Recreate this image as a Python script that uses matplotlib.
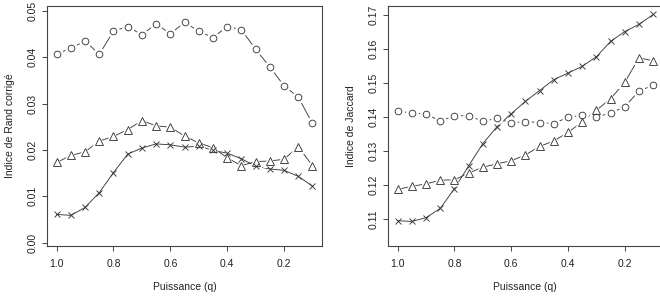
import numpy as np
import matplotlib.pyplot as plt

plt.rcParams['font.family'] = ['Liberation Sans', 'DejaVu Sans']

#%% data
q = [1.0, 0.95, 0.9, 0.85, 0.8, 0.75, 0.7, 0.65, 0.6, 0.55,
     0.5, 0.45, 0.4, 0.35, 0.3, 0.25, 0.2, 0.15, 0.1]

rand_circle = [0.0407, 0.0419, 0.0435, 0.0406, 0.0456, 0.0466, 0.0448, 0.0472, 0.0450, 0.0475,
               0.0456, 0.0442, 0.0466, 0.0459, 0.0417, 0.0379, 0.0338, 0.0314, 0.0257]
rand_triangle = [0.0173, 0.0188, 0.0196, 0.0219, 0.0229, 0.0244, 0.0263, 0.0252, 0.0249, 0.0230,
                 0.0215, 0.0205, 0.0183, 0.0166, 0.0175, 0.0176, 0.0180, 0.0207, 0.0166]
rand_cross = [0.0061, 0.0059, 0.0076, 0.0108, 0.0151, 0.0191, 0.0204, 0.0213, 0.0211, 0.0206,
              0.0208, 0.0199, 0.0193, 0.0181, 0.0165, 0.0159, 0.0156, 0.0143, 0.0122]

jac_circle = [0.1419, 0.1411, 0.1410, 0.1388, 0.1404, 0.1404, 0.1388, 0.1396, 0.1383, 0.1387,
              0.1384, 0.1381, 0.1400, 0.1405, 0.1400, 0.1412, 0.1430, 0.1477, 0.1493]
jac_triangle = [0.1188, 0.1197, 0.1204, 0.1215, 0.1216, 0.1236, 0.1253, 0.1263, 0.1272, 0.1289,
                0.1314, 0.1330, 0.1355, 0.1386, 0.1420, 0.1454, 0.1502, 0.1574, 0.1565]
jac_cross = [0.1096, 0.1094, 0.1105, 0.1132, 0.1190, 0.1257, 0.1322, 0.1372, 0.1410, 0.1446,
             0.1478, 0.1510, 0.1529, 0.1549, 0.1577, 0.1622, 0.1651, 0.1672, 0.1701]

x_ticks = [1.0, 0.8, 0.6, 0.4, 0.2]
rand_ticks = [0.00, 0.01, 0.02, 0.03, 0.04, 0.05]
jac_ticks = [0.11, 0.12, 0.13, 0.14, 0.15, 0.16, 0.17]

#%%
col = '#3a3a3a'
fs = 7.5


def draw_b(ax, y, marker, ms):
    # R type="b": line with a gap around each point
    ax.plot(q, y, color=col, lw=0.65, zorder=2)
    ax.plot(q, y, linestyle='none', marker=marker, ms=ms * 1.9,
            mfc='white', mec='white', mew=0, zorder=3)
    ax.plot(q, y, linestyle='none', marker=marker, ms=ms,
            mfc='none', mec=col, mew=0.65, zorder=4)


def style(ax, yticks, ylim, ylabel):
    ax.set_xlim(1.035, 0.0655)
    ax.set_ylim(*ylim)
    ax.set_xticks(x_ticks)
    ax.set_xticklabels(['%.1f' % v for v in x_ticks])
    ax.set_yticks(yticks)
    ax.set_yticklabels(['%.2f' % v for v in yticks], rotation=90, va='center')
    ax.tick_params(direction='out', length=3.6, width=0.7, color='#444444',
                   labelsize=fs, labelcolor='#222222')
    ax.tick_params(axis='x', pad=6)
    ax.tick_params(axis='y', pad=3)
    for s in ax.spines.values():
        s.set_color('#444444')
        s.set_linewidth(0.8)
    ax.set_xlabel('Puissance (q)', fontsize=fs, color='#222222', labelpad=9)
    ax.set_ylabel(ylabel, fontsize=fs, color='#222222', labelpad=9)


fig = plt.figure(figsize=(6.6, 2.96), dpi=100)
ax1 = fig.add_axes([0.0707, 0.169, 0.4176, 0.812])
ax2 = fig.add_axes([0.5874, 0.169, 0.4171, 0.812])

draw_b(ax1, rand_circle, 'o', 4.8)
draw_b(ax1, rand_triangle, '^', 5.4)
draw_b(ax1, rand_cross, 'x', 4.4)
style(ax1, rand_ticks, (-0.0007, 0.0511), 'Indice de Rand corrigé')

draw_b(ax2, jac_circle, 'o', 4.8)
draw_b(ax2, jac_triangle, '^', 5.4)
draw_b(ax2, jac_cross, 'x', 4.4)
style(ax2, jac_ticks, (0.1022, 0.1727), 'Indice de Jaccard')

fig.savefig('out.png', dpi=100)
